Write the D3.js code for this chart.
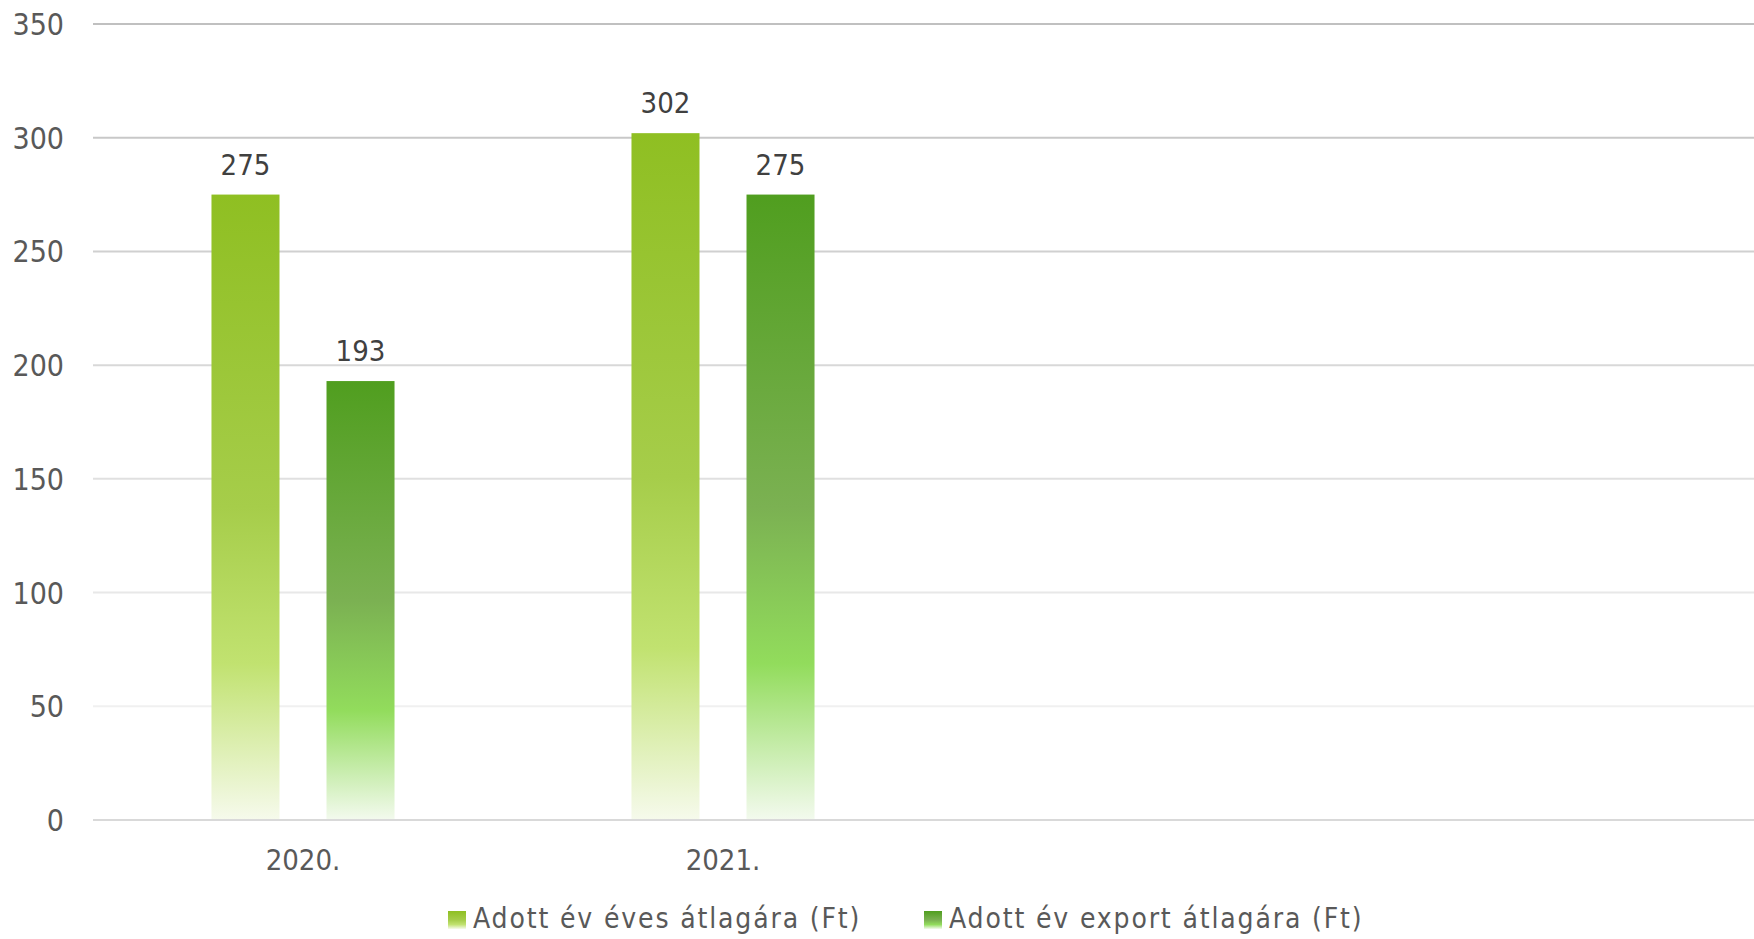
<!DOCTYPE html>
<html>
<head>
<meta charset="utf-8">
<script src="https://cdn.jsdelivr.net/npm/d3@7"></script>
<style>
  body { margin: 0; background: #fff; }
  text { font-family: "DejaVu Sans Condensed", "DejaVu Sans", sans-serif; }
</style>
</head>
<body>
<div id="chart"></div>
<script>
var categories = ['2020.', '2021.'];
var seriesNames = ['Adott év éves átlagára (Ft)', 'Adott év export átlagára (Ft)'];
var eves = [275, 302];
var export_ = [193, 275];
var yTicks = [0, 50, 100, 150, 200, 250, 300, 350];

var width = 1754, height = 939;
var plotLeft = 93, plotRight = 1754, plotTop = 24, plotBottom = 820;

var svg = d3.select('#chart').append('svg')
  .attr('width', width).attr('height', height);

var defs = svg.append('defs');
var grads = [
  ['#8fbf22', '#a6cd4a', '#c1e270', '#f6faec'],
  ['#509e1f', '#7bb152', '#92dc5c', '#f3faee']
];
grads.forEach(function (c, i) {
  var g = defs.append('linearGradient').attr('id', 'grad' + i)
    .attr('x1', 0).attr('x2', 0).attr('y1', 0).attr('y2', 1);
  g.append('stop').attr('offset', '0%').attr('stop-color', c[0]);
  g.append('stop').attr('offset', '50%').attr('stop-color', c[1]);
  g.append('stop').attr('offset', '75%').attr('stop-color', c[2]);
  g.append('stop').attr('offset', '100%').attr('stop-color', c[3]);
});

var y = d3.scaleLinear().domain([0, 350]).range([plotBottom, plotTop]);
var x0 = d3.scaleBand().domain(categories).range([plotLeft, plotLeft + 840]);
var x1 = d3.scaleBand().domain([0, 1]).range([0, x0.bandwidth()])
  .paddingInner(0.4087).paddingOuter(1.03);

var gridColor = d3.scaleLinear().domain([50, 350]).range(['#f0f0f0', '#c0c0c0']);

// gridlines
svg.append('g').selectAll('line').data(yTicks.filter(function (d) { return d > 0; }))
  .enter().append('line')
  .attr('x1', plotLeft).attr('x2', plotRight)
  .attr('y1', function (d) { return y(d); }).attr('y2', function (d) { return y(d); })
  .attr('stroke', function (d) { return gridColor(d); })
  .attr('stroke-width', 2);

// y labels
svg.append('g').selectAll('text').data(yTicks).enter().append('text')
  .attr('x', 64).attr('y', function (d) { return y(d) + 11; })
  .attr('text-anchor', 'end')
  .attr('font-size', 30).attr('fill', '#595959')
  .text(function (d) { return d; });

// bars
var data = categories.map(function (c, i) { return [eves[i], export_[i]]; });
var groups = svg.append('g').selectAll('g').data(data).enter().append('g')
  .attr('transform', function (d, i) { return 'translate(' + x0(categories[i]) + ',0)'; });

groups.selectAll('rect').data(function (d) { return d; }).enter().append('rect')
  .attr('x', function (d, j) { return x1(j); })
  .attr('width', x1.bandwidth())
  .attr('y', function (d) { return y(d); })
  .attr('height', function (d) { return y(0) - y(d); })
  .attr('fill', function (d, j) { return 'url(#grad' + j + ')'; });

groups.selectAll('text').data(function (d) { return d; }).enter().append('text')
  .attr('x', function (d, j) { return x1(j) + x1.bandwidth() / 2; })
  .attr('y', function (d) { return y(d) - 20; })
  .attr('text-anchor', 'middle')
  .attr('font-size', 29).attr('fill', '#404040')
  .text(function (d) { return d; });

// zero axis line
svg.append('line')
  .attr('x1', plotLeft).attr('x2', plotRight).attr('y1', y(0)).attr('y2', y(0))
  .attr('stroke', '#d9d9d9').attr('stroke-width', 2);

// x labels
svg.append('g').selectAll('text').data(categories).enter().append('text')
  .attr('x', function (d) { return x0(d) + x0.bandwidth() / 2; })
  .attr('y', 870)
  .attr('text-anchor', 'middle')
  .attr('font-size', 29).attr('fill', '#595959')
  .text(function (d) { return d; });

// legend
var legendX = [448, 924];
var legend = svg.append('g').selectAll('g').data(seriesNames).enter().append('g')
  .attr('transform', function (d, i) { return 'translate(' + legendX[i] + ',911)'; });
legend.append('rect').attr('width', 18).attr('height', 18)
  .attr('fill', function (d, i) { return 'url(#grad' + i + ')'; });
legend.append('text').attr('x', 25).attr('y', 17)
  .attr('font-size', 28).attr('letter-spacing', 1.85).attr('fill', '#595959')
  .text(function (d) { return d; });
</script>
</body>
</html>
